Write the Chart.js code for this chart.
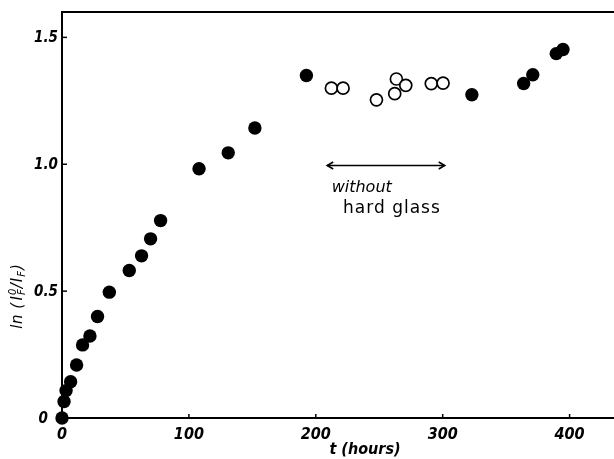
<!DOCTYPE html>
<html>
<head>
<meta charset="utf-8">
<script src="https://cdn.jsdelivr.net/npm/chart.js@4/dist/chart.umd.min.js"></script>
<style>
html,body{margin:0;padding:0;background:#fff;}
#wrap{width:614px;height:459px;position:relative;}
</style>
</head>
<body>
<div id="wrap"><canvas id="c" width="614" height="459"></canvas></div>
<script>
// Data
const filledT = [0, 1.6, 3.2, 6.8, 11.5, 16.2, 22, 28, 37.3, 53, 62.7, 69.8, 77.7, 108, 131, 152, 192.6, 323, 363.8, 371, 389.5, 394.8];
const filledY = [0, 0.065, 0.108, 0.143, 0.209, 0.288, 0.323, 0.400, 0.496, 0.581, 0.639, 0.706, 0.778, 0.982, 1.045, 1.143, 1.350, 1.274, 1.318, 1.353, 1.436, 1.452];
const openT = [212.3, 221.5, 247.8, 262.2, 263.5, 270.9, 291, 300.3];
const openY = [1.300, 1.300, 1.254, 1.278, 1.336, 1.311, 1.318, 1.320];
const xTicks = [0, 100, 200, 300, 400];
const xTickLabels = ['0', '100', '200', '300', '400'];
const yTicks = [0, 0.5, 1.0, 1.5];
const yTickLabels = ['0', '0.5', '1.0', '1.5'];
const arrowT = [209, 301.6];
const arrowY = 0.995;

const FONT = "'DejaVu Sans', sans-serif";
const NUMFONT = "'DejaVu Sans Condensed', 'DejaVu Sans', sans-serif";

const pts = (xs, ys) => xs.map((x, i) => ({x: x, y: ys[i]}));

const decor = {
  id: 'decor',
  afterDraw(chart) {
    const ctx = chart.ctx;
    const xs = chart.scales.x, ys = chart.scales.y;
    const a = chart.chartArea;
    ctx.save();
    ctx.strokeStyle = '#000';
    ctx.fillStyle = '#000';
    ctx.lineWidth = 2;
    // top frame line
    ctx.beginPath();
    ctx.moveTo(a.left - 1, a.top);
    ctx.lineTo(a.right, a.top);
    ctx.stroke();
    // inward tick marks
    ctx.lineWidth = 1.5;
    xTicks.forEach(v => {
      const px = xs.getPixelForValue(v);
      ctx.beginPath(); ctx.moveTo(px, a.bottom); ctx.lineTo(px, a.bottom - 4); ctx.stroke();
    });
    yTicks.forEach(v => {
      const py = ys.getPixelForValue(v);
      ctx.beginPath(); ctx.moveTo(a.left, py); ctx.lineTo(a.left + 5, py); ctx.stroke();
    });
    // tick labels
    ctx.font = "italic bold 16px " + NUMFONT;
    ctx.textBaseline = 'middle';
    ctx.textAlign = 'center';
    xTicks.forEach((v, i) => {
      ctx.fillText(xTickLabels[i], xs.getPixelForValue(v), a.bottom + 17);
    });
    ctx.font = "italic bold 15px " + NUMFONT;
    ctx.textAlign = 'right';
    yTicks.forEach((v, i) => {
      const dx = (i === 0) ? 14 : 4;
      ctx.fillText(yTickLabels[i], a.left - dx, ys.getPixelForValue(v) + 1);
    });
    // x-axis title
    ctx.textAlign = 'center';
    ctx.font = "italic bold 16px " + NUMFONT;
    ctx.fillText('t (hours)', 365, 450);
    // double arrow
    const x1 = xs.getPixelForValue(arrowT[0]), x2 = xs.getPixelForValue(arrowT[1]);
    const y = ys.getPixelForValue(arrowY);
    ctx.lineWidth = 1.3;
    ctx.beginPath(); ctx.moveTo(x1, y); ctx.lineTo(x2, y); ctx.stroke();
    ctx.lineWidth = 1.6;
    ctx.beginPath();
    ctx.moveTo(x1 + 6, y - 3.5); ctx.lineTo(x1, y); ctx.lineTo(x1 + 6, y + 3.5);
    ctx.moveTo(x2 - 6, y - 3.5); ctx.lineTo(x2, y); ctx.lineTo(x2 - 6, y + 3.5);
    ctx.stroke();
    // annotation text
    ctx.textBaseline = 'middle';
    ctx.textAlign = 'left';
    ctx.font = "italic 16px " + FONT;
    ctx.fillText('without', xs.getPixelForValue(212.5), ys.getPixelForValue(0.906));
    ctx.font = "17px " + FONT;
    try { ctx.letterSpacing = '1px'; } catch (e) {}
    ctx.fillText('hard glass', xs.getPixelForValue(221.5), ys.getPixelForValue(0.827));
    try { ctx.letterSpacing = '0.5px'; } catch (e) {}
    // y-axis title: ln (I_F^0 / I_F)
    ctx.translate(18, 296);
    ctx.rotate(-Math.PI / 2);
    ctx.textAlign = 'left';
    ctx.textBaseline = 'middle';
    const big = "italic 15px " + FONT, small = "italic 10px " + FONT;
    const parts = [
      ['ln (', big, 0], ['I', big, 0], ['0', small, -5], ['F', small, 4], ['/', big, 0], ['I', big, 0], ['F', small, 4], [')', big, 0]
    ];
    const widths = parts.map((p, i) => {
      ctx.font = p[1];
      let w = ctx.measureText(p[0]).width + 0.5 * p[0].length;
      if (i === 2) w = 0; // superscript stacked above subscript
      return w;
    });
    const total = widths.reduce((s, w) => s + w, 0);
    let cx = -total / 2;
    parts.forEach((p, i) => {
      ctx.font = p[1];
      ctx.fillText(p[0], cx, p[2]);
      cx += widths[i];
    });
    ctx.restore();
  }
};

new Chart(document.getElementById('c'), {
  type: 'scatter',
  data: {
    datasets: [
      {
        label: 'with hard glass',
        data: pts(filledT, filledY),
        pointRadius: 6.7,
        pointHoverRadius: 6.7,
        backgroundColor: '#000',
        borderColor: '#000',
        borderWidth: 0,
        clip: false
      },
      {
        label: 'without hard glass',
        data: pts(openT, openY),
        pointRadius: 6,
        pointHoverRadius: 6,
        backgroundColor: '#fff',
        borderColor: '#000',
        borderWidth: 1.7,
        clip: false
      }
    ]
  },
  options: {
    responsive: false,
    animation: false,
    events: [],
    layout: {autoPadding: false, padding: {top: 12, right: 0, left: 0, bottom: 0}},
    plugins: {legend: {display: false}, tooltip: {enabled: false}},
    scales: {
      x: {
        type: 'linear',
        min: 0, max: 435,
        afterFit(s) { s.height = 41; },
        afterBuildTicks(s) { s.ticks = xTicks.map(v => ({value: v})); },
        grid: {display: false},
        border: {display: true, color: '#000', width: 2},
        ticks: {display: false}
      },
      y: {
        type: 'linear',
        min: 0, max: 1.6,
        afterFit(s) { s.width = 62; },
        afterBuildTicks(s) { s.ticks = yTicks.map(v => ({value: v})); },
        grid: {display: false},
        border: {display: true, color: '#000', width: 2},
        ticks: {display: false}
      }
    }
  },
  plugins: [decor]
});
</script>
</body>
</html>
